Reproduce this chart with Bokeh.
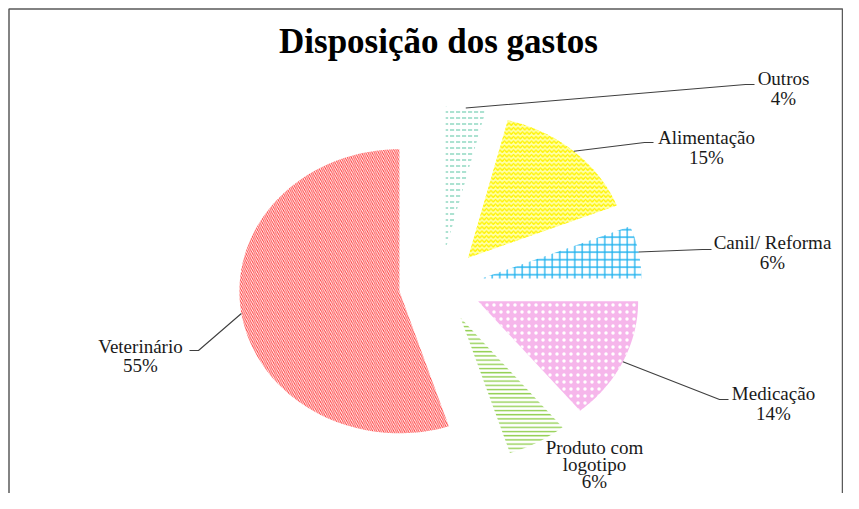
import numpy as np
from bokeh.plotting import figure
from bokeh.models import Range1d
from bokeh.core.properties import value
from bokeh.embed import file_html
from bokeh.resources import INLINE

# ---- data ----
categories = ["Outros", "Alimentação", "Canil/ Reforma", "Medicação", "Produto com logotipo", "Veterinário"]
values = [4, 15, 6, 14, 6, 55]
label_lines = [["Outros"], ["Alimentação"], ["Canil/ Reforma"], ["Medicação"],
               ["Produto com", "logotipo"], ["Veterinário"]]
title = "Disposição dos gastos"

# ---- style ----
fill_colors = ["white", "#FFFFA8", "white", "#F6B6EB", "white", "white"]
hatch_patterns = ['"', "v", "+", ".", "-", "\\"]
hatch_colors = ["#7FD3B8", "#FFF200", "#1FB2EE", "white", "#92CF50", "#FF3B3B"]
hatch_scales = [6, 4.5, 7.5, 7, 4.2, 4.2]
hatch_weights = [1.3, 1.4, 1.3, 1.6, 1.4, 1.0]

# label anchors (layout): centre x, first baseline y, line height
label_pos = [(783, 78, 20), (706, 137, 20), (772, 242, 20), (773, 393, 20),
             (594, 447, 17), (140, 346, 19)]
leader_end = [(754, 84), (653, 142), (711, 249), (728, 399), None, (189, 350)]
FONT = value("Liberation Serif")

CX, CY, RX, RY, EXPLODE = 440, 285, 160, 142, 0.26

W, H = 843, 493
p = figure(width=W, height=H, output_backend="svg", toolbar_location=None,
           x_range=Range1d(0, W), y_range=Range1d(H, 0), min_border=0)
p.axis.visible = False
p.grid.visible = False
p.outline_line_color = None
p.background_fill_color = "white"
p.border_fill_color = "white"

total = float(sum(values))
cum = np.concatenate([[0], np.cumsum(values)]) / total * 2 * np.pi

for i, cat in enumerate(categories):
    a0, a1 = cum[i], cum[i + 1]
    mid = (a0 + a1) / 2
    vx = CX + EXPLODE * RX * np.sin(mid)
    vy = CY - EXPLODE * RY * np.cos(mid)
    t = np.linspace(a0, a1, 120)
    px = np.concatenate([[vx], vx + RX * np.sin(t)])
    py = np.concatenate([[vy], vy - RY * np.cos(t)])
    p.patch(px, py, fill_color=fill_colors[i], line_color=None,
            hatch_pattern=hatch_patterns[i], hatch_color=hatch_colors[i],
            hatch_scale=hatch_scales[i], hatch_weight=hatch_weights[i])
    # leader line from arc at bisector
    if leader_end[i] is not None:
        sx = vx + RX * np.sin(mid)
        sy = vy - RY * np.cos(mid)
        ex, ey = leader_end[i]
        stub = 9 if ex > sx else -9
        p.line([sx, ex - stub, ex], [sy, ey, ey], line_color="#3F3F3F", line_width=1.1)
    # labels
    cx, by, lh = label_pos[i]
    lines = label_lines[i] + [f"{values[i]}%"]
    for k, txt in enumerate(lines):
        p.text(x=[cx], y=[by + k * lh], text=[txt], text_align="center",
               text_baseline="alphabetic", text_font=FONT, text_font_size="19px",
               text_color="#1A1A1A")

# title
p.text(x=[438], y=[41], text=[title], text_align="center", text_baseline="alphabetic",
       text_font=FONT, text_font_size="35px", text_font_style="bold", text_color="black")

# chart frame (left, top, right)
p.line([8.5, 8.5, W - 1, W - 1], [H, 8.5, 8.5, H], line_color="#5A5A5A", line_width=1.5)

open("out.html", "w").write(file_html(p, INLINE))
